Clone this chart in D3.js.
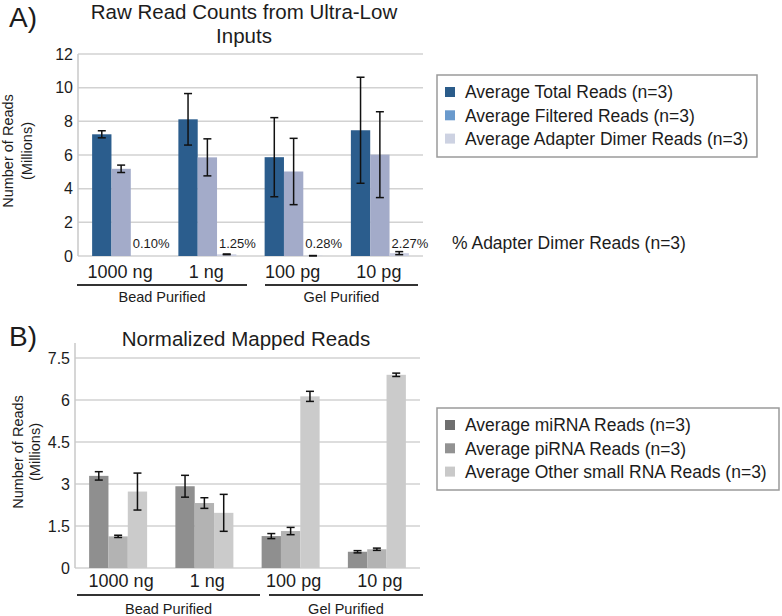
<!DOCTYPE html>
<html><head><meta charset="utf-8">
<script src="https://cdn.jsdelivr.net/npm/d3@7/dist/d3.min.js"></script>
<style>
body{margin:0;background:#fff}
text{font-family:"Liberation Sans",Arial,Helvetica,sans-serif;fill:#1c1c1c}
</style>
</head><body>
<svg id="chart" width="782" height="616"></svg>
<script>
// ---------- shared ----------
const categories = ["1000 ng", "1 ng", "100 pg", "10 pg"];
const groupNames = ["Bead Purified", "Gel Purified"];
const groupSpans = [[0, 1], [2, 3]];

// ---------- Chart A: Raw Read Counts ----------
const seriesA = ["Average Total Reads (n=3)", "Average Filtered Reads (n=3)", "Average Adapter Dimer Reads (n=3)"];
const totalReads    = [7.23, 8.12, 5.87, 7.47];
const totalErr      = [0.21, 1.53, 2.35, 3.15];
const filteredReads = [5.18, 5.86, 5.02, 6.02];
const filteredErr   = [0.22, 1.10, 1.97, 2.55];
const dimerReads    = [0.007, 0.10, 0.017, 0.17];
const dimerErr      = [0, 0.02, 0.01, 0.09];
const dimerPct      = ["0.10%", "1.25%", "0.28%", "2.27%"];
const ticksA        = [0, 2, 4, 6, 8, 10, 12];

// ---------- Chart B: Normalized Mapped Reads ----------
const seriesB = ["Average miRNA Reads (n=3)", "Average piRNA Reads (n=3)", "Average Other small RNA Reads (n=3)"];
const mirnaReads = [3.29, 2.92, 1.14, 0.58];
const mirnaErr   = [0.15, 0.39, 0.09, 0.04];
const pirnaReads = [1.13, 2.32, 1.32, 0.67];
const pirnaErr   = [0.04, 0.19, 0.13, 0.04];
const otherReads = [2.73, 1.97, 6.13, 6.90];
const otherErr   = [0.66, 0.66, 0.18, 0.06];
const ticksB     = [0, 1.5, 3, 4.5, 6, 7.5];

const svg = d3.select("#chart");
const FONT_AX = 16, FONT_CAT = 18, FONT_GRP = 14.5, FONT_LEG = 17.5;

function drawChart(cfg) {
  const g = svg.append("g");
  const x = d3.scaleBand().domain(categories).range([cfg.left, cfg.right]);
  const y = d3.scaleLinear().domain(cfg.domain).range([cfg.bottom, cfg.top]);
  const inner = 58;
  const xs = d3.scaleBand().domain(cfg.series)
    .range([(x.bandwidth() - inner) / 2, (x.bandwidth() + inner) / 2]);

  // gridlines
  g.selectAll(".grid").data(cfg.ticks).join("line")
    .attr("x1", cfg.left).attr("x2", cfg.right)
    .attr("y1", d => y(d)).attr("y2", d => y(d))
    .attr("stroke", "#d2d2d2").attr("stroke-width", 1.5);
  // left axis line
  g.append("line").attr("x1", cfg.left).attr("x2", cfg.left)
    .attr("y1", cfg.axisTop).attr("y2", cfg.bottom)
    .attr("stroke", "#c8c8c8").attr("stroke-width", 1.5);
  // tick labels
  g.selectAll(".tl").data(cfg.ticks).join("text")
    .attr("x", cfg.left - 5).attr("y", d => y(d)).attr("dy", "0.36em")
    .attr("text-anchor", "end").attr("font-size", FONT_AX)
    .text(d => d);

  // bars
  const rows = categories.map((c, i) => ({
    cat: c,
    vals: cfg.series.map((s, k) => ({ s, k, v: cfg.values[k][i], e: cfg.errors[k][i] }))
  }));
  const grp = g.selectAll(".grp").data(rows).join("g")
    .attr("transform", d => `translate(${x(d.cat)},0)`);
  grp.selectAll("rect").data(d => d.vals).join("rect")
    .attr("x", d => xs(d.s)).attr("width", xs.bandwidth())
    .attr("y", d => y(d.v)).attr("height", d => y(0) - y(d.v))
    .attr("fill", d => cfg.barColors[d.k]);
  // error bars
  const eb = grp.selectAll(".eb").data(d => d.vals.filter(v => v.e > 0)).join("g");
  const cx = d => xs(d.s) + xs.bandwidth() / 2;
  eb.append("line").attr("x1", cx).attr("x2", cx)
    .attr("y1", d => y(d.v + d.e)).attr("y2", d => y(Math.max(0, d.v - d.e)))
    .attr("stroke", "#111").attr("stroke-width", 1.5);
  [1, -1].forEach(sg => {
    eb.append("line").attr("x1", d => cx(d) - 4).attr("x2", d => cx(d) + 4)
      .attr("y1", d => y(Math.max(0, d.v + sg * d.e))).attr("y2", d => y(Math.max(0, d.v + sg * d.e)))
      .attr("stroke", "#111").attr("stroke-width", 1.5);
  });

  // category labels
  g.selectAll(".cl").data(categories).join("text")
    .attr("x", d => x(d) + x.bandwidth() / 2 + (cfg.catShift || 0))
    .attr("y", cfg.catY).attr("text-anchor", "middle")
    .attr("font-size", FONT_CAT).text(d => d);
  // group brackets
  groupNames.forEach((name, gi) => {
    const [a, b] = groupSpans[gi];
    const x1 = x(categories[a]) + cfg.bracketInset[gi][0];
    const x2 = x(categories[b]) + x.bandwidth() + cfg.bracketInset[gi][1];
    g.append("line").attr("x1", x1).attr("x2", x2)
      .attr("y1", cfg.bracketY).attr("y2", cfg.bracketY)
      .attr("stroke", "#333").attr("stroke-width", 2);
    g.append("text").attr("x", (x1 + x2) / 2).attr("y", cfg.groupY)
      .attr("text-anchor", "middle").attr("font-size", FONT_GRP).text(name);
  });

  // y axis label
  const ym = (cfg.top + cfg.bottom) / 2 - 4;
  cfg.yLabel.forEach((t, i) => {
    g.append("text")
      .attr("transform", `translate(${cfg.yLabelX[i]},${ym}) rotate(-90)`)
      .attr("text-anchor", "middle").attr("font-size", FONT_GRP).text(t);
  });

  // title
  cfg.title.forEach((t, i) => {
    g.append("text").attr("x", cfg.titleX).attr("y", cfg.titleY + i * 23.5)
      .attr("text-anchor", "middle").attr("font-size", 20.5).text(t);
  });
  g.append("text").attr("x", 9).attr("y", cfg.panelY)
    .attr("font-size", 28).text(cfg.panel);

  // legend
  const L = cfg.legend;
  g.append("rect").attr("x", L.x).attr("y", L.y).attr("width", L.w).attr("height", L.h)
    .attr("fill", "#fff").attr("stroke", "#9a9a9a").attr("stroke-width", 1.5);
  const li = g.selectAll(".li").data(cfg.series).join("g")
    .attr("transform", (d, i) => `translate(${L.x + 8},${L.y + 17 + i * 23.3})`);
  li.append("rect").attr("x", 0).attr("y", -5).attr("width", 10).attr("height", 10)
    .attr("fill", (d, i) => cfg.legendColors[i]);
  li.append("text").attr("x", 20).attr("y", 0).attr("dy", "0.36em")
    .attr("font-size", FONT_LEG).text(d => d);

  return { g, x, y, xs };
}

const A = drawChart({
  left: 78, right: 423, top: 54, bottom: 256, axisTop: 54, domain: [0, 12], ticks: ticksA,
  series: seriesA,
  values: [totalReads, filteredReads, dimerReads],
  errors: [totalErr, filteredErr, dimerErr],
  barColors: ["#2b5d8d", "#a3abc9", "#cbcfe1"],
  legendColors: ["#2b5c8a", "#6a9acd", "#cdd2e2"],
  catY: 278, catShift: -1, bracketY: 285, groupY: 302,
  bracketInset: [[-1, -3.5], [14.5, -5]],
  yLabel: ["Number of Reads", "(Millions)"], yLabelX: [13, 32],
  title: ["Raw Read Counts from Ultra-Low", "Inputs"], titleX: 244, titleY: 19,
  panel: "A)", panelY: 27,
  legend: { x: 437, y: 75, w: 320, h: 82 }
});

// percent adapter dimer labels
A.g.selectAll(".pct").data(categories).join("text")
  .attr("x", d => A.x(d) + A.xs(seriesA[2]) + 2)
  .attr("y", 248).attr("font-size", 13)
  .text((d, i) => dimerPct[i]);
A.g.append("text").attr("x", 452).attr("y", 249).attr("font-size", FONT_LEG)
  .text("% Adapter Dimer Reads (n=3)");

drawChart({
  left: 75, right: 420, top: 344, bottom: 568, axisTop: 343, domain: [0, 8], ticks: ticksB,
  series: seriesB,
  values: [mirnaReads, pirnaReads, otherReads],
  errors: [mirnaErr, pirnaErr, otherErr],
  barColors: ["#8f8f8f", "#b3b3b3", "#cbcbcb"],
  legendColors: ["#6f6f6f", "#929292", "#c9c9c9"],
  catY: 587, catShift: 3, bracketY: 595, groupY: 614,
  bracketInset: [[2, 12.5], [21.5, 3]],
  yLabel: ["Number of Reads", "(Millions)"], yLabelX: [23, 40],
  title: ["Normalized Mapped Reads"], titleX: 246, titleY: 346,
  panel: "B)", panelY: 346,
  legend: { x: 437, y: 408, w: 342, h: 82 }
});
</script>
</body></html>
